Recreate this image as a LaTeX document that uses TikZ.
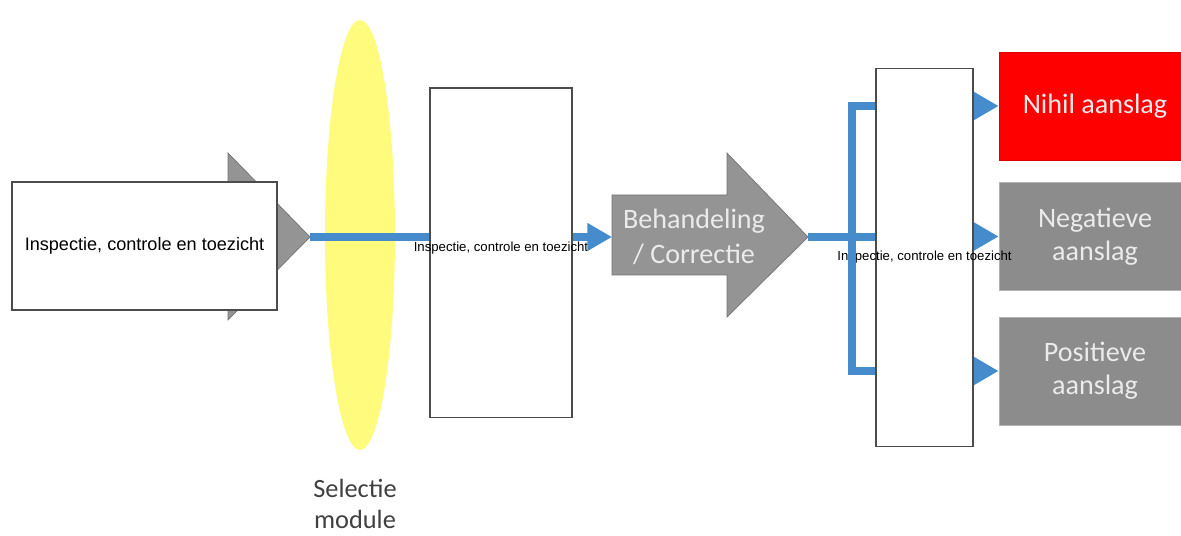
\documentclass[tikz,border=0pt]{standalone}
\usepackage{fontspec}
\setmainfont{Carlito}
\newfontfamily\arial{Liberation Sans}
\usetikzlibrary{arrows.meta,shapes.geometric}
\usetikzlibrary{positioning}

\definecolor{flowblue}{RGB}{70,140,205}
\definecolor{boxgray}{RGB}{140,140,140}
\definecolor{arrowgray}{RGB}{148,148,148}
\definecolor{lensyellow}{RGB}{255,252,125}

\tikzset{
  flow/.style={draw=flowblue, line width=4pt},
  flowarrow/.style={flow, -{Triangle[length=14pt,width=15pt]}},
  whitebox/.style={draw=black!70, fill=white, line width=0.6pt, inner sep=0pt},
  smalltext/.style={font=\arial\fontsize{7.5}{9}\selectfont},
  uitkomst/.style={fill=boxgray, draw=black!30, text=white!92!black, align=center,
    font=\fontsize{16}{19}\selectfont, minimum width=3.84cm, minimum height=2.16cm, inner sep=0pt}
}

\begin{document}
\begin{tikzpicture}[x=0.02cm, y=-0.02cm]
		\useasboundingbox (0,0) rectangle (1181,536);
		% selection lens
		\node[ellipse, fill=lensyellow, minimum width=1.4cm, minimum height=8.6cm, inner sep=0pt] (selectie) at (360,235) {};
		\node[text=black!75, align=center, font=\fontsize{15}{18}\selectfont] (selectielabel) at (355,504) {Selectie\\module};
		%% grey input arrow, mostly hidden behind the first box
		\filldraw[fill=arrowgray, draw=black!55] (100,200) -- (228,200) -- (228,153) -- (310,237) -- (228,320) -- (228,275) -- (100,275) -- cycle;
		\coordinate (intip) at (310,237);
		\node[whitebox, minimum width=5.3cm, minimum height=2.56cm, font=\arial\fontsize{10.3}{12}\selectfont] (inspectie) at (144.5,246) {Inspectie, controle en toezicht};
		%% second box
		\node[whitebox, minimum width=2.84cm, minimum height=6.6cm,
			label={[smalltext, yshift=0.1cm]center:Inspectie, controle en toezicht}] (controle) at (501,253) {};
		\draw[flow] (intip) -- (intip -| controle.west); %% through the lens
		%% treatment arrow
		\coordinate (behtail) at (612,237);
		\coordinate (behtip) at (808,237);
		\filldraw[fill=arrowgray, draw=black!55] (612,195) -- (727,195) -- (727,153) -- (behtip) -- (727,317) -- (727,275) -- (612,275) -- cycle;
		\node[text=white!92!black, align=center, font=\fontsize{16}{20}\selectfont] (behandeling) at (694,237) {Behandeling\\/ Correctie};
		\draw[flowarrow] (controle.east |- behtail) -- (behtail);
		%% outcomes
		\node[uitkomst, fill=red, draw=red!85!black] (nihil) at (1095,106) {Nihil aanslag};
		\node[uitkomst] (negatief) at (1095,236.5) {Negatieve\\aanslag};
		\node[uitkomst] (positief) at (1095,371) {Positieve\\aanslag};
		%% third box with the split in front of it
		\node[whitebox, minimum width=1.94cm, minimum height=7.58cm,
			label={[smalltext]center:Inspectie, controle en toezicht}] (keuze) at (924.5,257.5) {};
		\coordinate (splits) at (852,237);
		\draw[flow] (behtip) -- (keuze.west |- behtip);
		\draw[flow] (keuze.west |- nihil) -| (splits) |- (keuze.west |- positief);
		\draw[flowarrow] (keuze.east |- nihil) -- (nihil.west);
		\draw[flowarrow] (keuze.east |- negatief) -- (negatief.west);
		\draw[flowarrow] (keuze.east |- positief) -- (positief.west);
	\end{tikzpicture}
\end{document}
